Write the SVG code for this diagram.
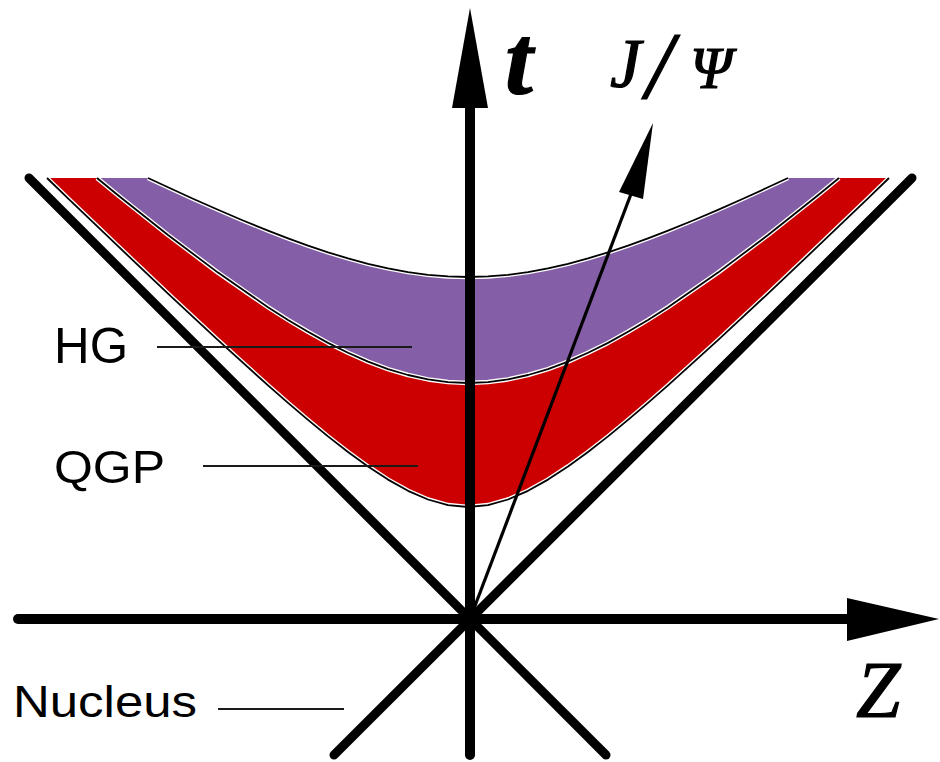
<svg xmlns="http://www.w3.org/2000/svg" width="940" height="762" viewBox="0 0 940 762">
<style>
.band-red{fill:#cc0000;stroke:none}
.band-purple{fill:#845ea6;stroke:none}
.halo{fill:none;stroke:#ffffff;stroke-width:4.5;stroke-linejoin:round}
.edge{fill:none;stroke:#000000;stroke-width:1.8;stroke-linejoin:round}
.axis{stroke:#000000;stroke-width:10;stroke-linecap:round;fill:none}
.cone{stroke:#000000;stroke-width:9;stroke-linecap:round;fill:none}
.leader{stroke:#1a1a1a;stroke-width:1.8;fill:none}
.head{fill:#000000;stroke:none}
.lbl{font-family:"Liberation Sans",Arial,sans-serif;fill:#000000}
.math{font-family:"Liberation Serif","Times New Roman",serif;font-style:italic;fill:#000000;stroke:#000000;stroke-width:1.2}
</style>
<defs>
<polyline id="curveL" points="47,178 68,198.3 118,246.2 168,293.6 218,340.2 268,385.4 288,402.9 308,419.9 328,436.4 348,452 368,466.5 388,479.6 408,490.8 428,499.5 448,505.1 468,507 488,505.1 508,499.5 528,490.8 548,479.6 568,466.5 588,452 608,436.4 628,419.9 648,402.9 668,385.4 718,340.2 768,293.6 818,246.2 868,198.3 889,178"/>
<polyline id="curveM" points="97,178 118,195.2 168,235 218,272.6 268,307.2 288,319.9 308,331.8 328,342.9 348,352.8 368,361.6 388,369.1 408,375 428,379.4 448,382.1 468,383 488,382.1 508,379.4 528,375 548,369.1 568,361.6 588,352.8 608,342.9 628,331.8 648,319.9 668,307.2 718,272.6 768,235 818,195.2 839,178"/>
<polyline id="curveU" points="148,178 168,187.3 193,198.8 218,209.8 243,220.5 268,230.6 288,238.3 308,245.6 328,252.3 348,258.4 368,263.8 388,268.3 408,272.1 428,274.8 448,276.4 468,277 488,276.4 508,274.8 528,272.1 548,268.3 568,263.8 588,258.4 608,252.3 628,245.6 648,238.3 668,230.6 693,220.5 718,209.8 743,198.8 768,187.3 788,178"/>
</defs>

<g id="qgp-region">
<path class="band-red" d="M47,178 L68,198.3 L118,246.2 L168,293.6 L218,340.2 L268,385.4 L288,402.9 L308,419.9 L328,436.4 L348,452 L368,466.5 L388,479.6 L408,490.8 L428,499.5 L448,505.1 L468,507 L488,505.1 L508,499.5 L528,490.8 L548,479.6 L568,466.5 L588,452 L608,436.4 L628,419.9 L648,402.9 L668,385.4 L718,340.2 L768,293.6 L818,246.2 L868,198.3 L889,178 L839,178 L818,195.2 L768,235 L718,272.6 L668,307.2 L648,319.9 L628,331.8 L608,342.9 L588,352.8 L568,361.6 L548,369.1 L528,375 L508,379.4 L488,382.1 L468,383 L448,382.1 L428,379.4 L408,375 L388,369.1 L368,361.6 L348,352.8 L328,342.9 L308,331.8 L288,319.9 L268,307.2 L218,272.6 L168,235 L118,195.2 L97,178 Z"/>
</g>
<g id="hg-region">
<path class="band-purple" d="M97,178 L118,195.2 L168,235 L218,272.6 L268,307.2 L288,319.9 L308,331.8 L328,342.9 L348,352.8 L368,361.6 L388,369.1 L408,375 L428,379.4 L448,382.1 L468,383 L488,382.1 L508,379.4 L528,375 L548,369.1 L568,361.6 L588,352.8 L608,342.9 L628,331.8 L648,319.9 L668,307.2 L718,272.6 L768,235 L818,195.2 L839,178 L788,178 L768,187.3 L743,198.8 L718,209.8 L693,220.5 L668,230.6 L648,238.3 L628,245.6 L608,252.3 L588,258.4 L568,263.8 L548,268.3 L528,272.1 L508,274.8 L488,276.4 L468,277 L448,276.4 L428,274.8 L408,272.1 L388,268.3 L368,263.8 L348,258.4 L328,252.3 L308,245.6 L288,238.3 L268,230.6 L243,220.5 L218,209.8 L193,198.8 L168,187.3 L148,178 Z"/>
</g>
<g id="hypersurfaces">
<use href="#curveL" class="halo"/>
<use href="#curveM" class="halo"/>
<use href="#curveU" class="halo"/>
<use href="#curveL" class="edge"/>
<use href="#curveM" class="edge"/>
<use href="#curveU" class="edge"/>
</g>

<g id="connectors">
<line class="cone" x1="29" y1="178" x2="606" y2="755"/>
<line class="cone" x1="912" y1="178" x2="334" y2="755"/>
<line class="axis" x1="18" y1="619" x2="852" y2="619" stroke-linecap="butt"/>
<polygon class="head" points="847,598 939,619 847,641"/>
<line class="axis" x1="470" y1="755" x2="470" y2="104"/>
<polygon class="head" points="452,108 470,8 488,108"/>
<line x1="470" y1="619" x2="631" y2="194" stroke="#000" stroke-width="3.2"/>
<polygon class="head" points="653,123 619,192 643,199"/>
<line class="leader" x1="157" y1="347" x2="412" y2="347"/>
<line class="leader" x1="203" y1="466" x2="418" y2="466"/>
<line class="leader" x1="218" y1="709" x2="344" y2="709"/>
</g>

<g id="label-hg"><text class="lbl" x="54" y="363" font-size="50" textLength="74" lengthAdjust="spacingAndGlyphs">HG</text></g>
<g id="label-qgp"><text class="lbl" x="54" y="483" font-size="47" textLength="111" lengthAdjust="spacingAndGlyphs">QGP</text></g>
<g id="label-nucleus"><text class="lbl" x="13" y="717" font-size="45" textLength="184" lengthAdjust="spacingAndGlyphs">Nucleus</text></g>
<g id="label-t"><text class="math" x="505" y="94" font-size="100" font-weight="bold" stroke-width="0">t</text></g>
<g id="label-z"><text class="math" x="856" y="717" font-size="80">Z</text></g>
<g id="label-jpsi">
<text class="math" x="610" y="87" font-size="70">J</text>
<text class="math" x="646" y="98" font-size="96">/</text>
<text class="math" x="690" y="88" font-size="60">Ψ</text>
</g>
</svg>
